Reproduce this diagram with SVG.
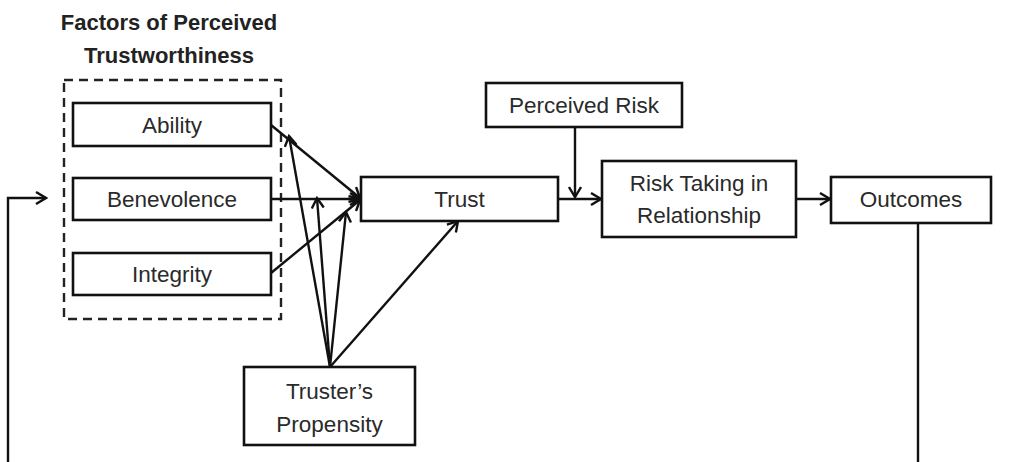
<svg xmlns="http://www.w3.org/2000/svg" width="1011" height="462" viewBox="0 0 1011 462">
<defs>
<marker id="arr" markerWidth="14" markerHeight="14" refX="12" refY="7" orient="auto" markerUnits="userSpaceOnUse">
<path d="M2,1 L12,7 L2,13" fill="none" stroke="#111" stroke-width="2.4" stroke-linejoin="miter"/>
</marker>
<style>
.box{fill:#fff;stroke:#111;stroke-width:2.6}
.dash{fill:none;stroke:#222;stroke-width:2.4;stroke-dasharray:9 6}
.t{font-family:"Liberation Sans",Arial,sans-serif;font-size:22.5px;fill:#2a2a2a;text-anchor:middle}
.title{font-family:"Liberation Sans",Arial,sans-serif;font-size:22px;font-weight:bold;fill:#222;text-anchor:middle}
.c{fill:none;stroke:#111;stroke-width:2.4}
.ca{fill:none;stroke:#111;stroke-width:2.4;marker-end:url(#arr)}
</style>
</defs>
<rect width="1011" height="462" fill="#fff"/>
<g id="title">
<text class="title" x="169" y="30">Factors of Perceived</text>
<text class="title" x="169" y="63">Trustworthiness</text>
</g>
<g id="factors-group">
<rect class="dash" x="64" y="80" width="217" height="239"/>
</g>
<g id="connectors">
<polyline class="ca" points="8,462 8,198 46,198"/>
<line class="c" x1="918" y1="223" x2="918" y2="462"/>
<line class="ca" x1="271" y1="125" x2="360" y2="198"/>
<line class="ca" x1="271" y1="199" x2="360" y2="199"/>
<line class="ca" x1="271" y1="273" x2="360" y2="200"/>
<line class="ca" x1="330" y1="367" x2="289" y2="136"/>
<line class="ca" x1="330" y1="367" x2="317" y2="198"/>
<line class="ca" x1="330" y1="367" x2="346" y2="212"/>
<line class="ca" x1="330" y1="367" x2="458" y2="221"/>
<line class="ca" x1="558" y1="199" x2="601" y2="199"/>
<line class="ca" x1="575" y1="127" x2="575" y2="197"/>
<line class="ca" x1="796" y1="199" x2="830" y2="199"/>
</g>
<g id="ability">
<rect class="box" x="73" y="103" width="198" height="43"/>
<text class="t" x="172" y="133">Ability</text>
</g>
<g id="benevolence">
<rect class="box" x="73" y="178" width="198" height="42"/>
<text class="t" x="172" y="207">Benevolence</text>
</g>
<g id="integrity">
<rect class="box" x="73" y="253" width="198" height="42"/>
<text class="t" x="172" y="282">Integrity</text>
</g>
<g id="trust">
<rect class="box" x="361" y="177" width="197" height="44"/>
<text class="t" x="459.5" y="207">Trust</text>
</g>
<g id="perceived-risk">
<rect class="box" x="486" y="83" width="196" height="44"/>
<text class="t" x="584" y="113">Perceived Risk</text>
</g>
<g id="risk-taking">
<rect class="box" x="602" y="161" width="194" height="76"/>
<text class="t" x="699" y="191">Risk Taking in</text>
<text class="t" x="699" y="223">Relationship</text>
</g>
<g id="outcomes">
<rect class="box" x="831" y="177" width="160" height="46"/>
<text class="t" x="911" y="207">Outcomes</text>
</g>
<g id="propensity">
<rect class="box" x="244" y="367" width="171" height="78"/>
<text class="t" x="329.5" y="399">Truster’s</text>
<text class="t" x="329.5" y="432">Propensity</text>
</g>
</svg>
